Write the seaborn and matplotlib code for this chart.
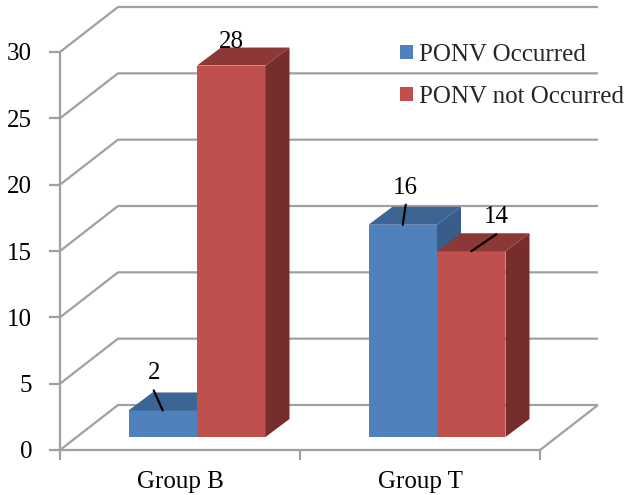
import matplotlib
matplotlib.use("Agg")
import matplotlib.pyplot as plt
from matplotlib.patches import Polygon, Patch
import pandas as pd
import seaborn as sns

# ---- data -------------------------------------------------------------
groups = ["Group B", "Group T"]
outcomes = ["PONV Occurred", "PONV not Occurred"]
occurred = [2, 16]
not_occurred = [28, 14]
y_ticks = [0, 5, 10, 15, 20, 25, 30]

df = pd.DataFrame({
    "group": groups * 2,
    "outcome": [outcomes[0]] * len(groups) + [outcomes[1]] * len(groups),
    "count": occurred + not_occurred,
})

# ---- styling ----------------------------------------------------------
front_col = {outcomes[0]: "#4F81BD", outcomes[1]: "#C0504D"}
top_col = {outcomes[0]: "#3D6594", outcomes[1]: "#8C3836"}
side_col = {outcomes[0]: "#385D8A", outcomes[1]: "#772D2C"}
grid_col = "#A0A0A0"
FS = 18

W, H, DPI = 639, 495, 100
sns.set_theme(style="white")
plt.rcParams["font.family"] = ["Liberation Serif", "DejaVu Serif"]

fig = plt.figure(figsize=(W / DPI, H / DPI), dpi=DPI)
# front plane of the 3-D box
ax = fig.add_axes([60 / W, 1 - 450 / H, 480 / W, 398 / H])

sns.barplot(data=df, x="group", y="count", hue="outcome",
            order=groups, hue_order=outcomes, palette=front_col,
            width=137 / 240, saturation=1, linewidth=0,
            legend=False, ax=ax)
ax.set_xlim(-0.5, 1.5)
ax.set_ylim(0, 30)
ax.set_xlabel("")
ax.set_ylabel("")

# pixel -> data conversion for the oblique depth offsets
p0 = ax.transData.transform((0, 0))
p1 = ax.transData.transform((1, 1))
sx, sy = p1[0] - p0[0], p1[1] - p0[1]


def depth(px, py):
    return px / sx, py / sy


wx, wy = depth(58, 45)      # full depth of the box
fx, fy = depth(17, 13)      # front of the bars
bdx, bdy = depth(24, 18)    # depth of a bar

# side wall / back wall gridlines and the floor
line_kw = dict(color=grid_col, lw=1.6, clip_on=False, zorder=1,
               solid_capstyle="butt")
for t in y_ticks[1:]:
    ax.plot([-0.5, -0.5 + wx, 1.5 + wx], [t, t + wy, t + wy], **line_kw)
ax.plot([-0.5, -0.5 + wx, 1.5 + wx], [0, wy, wy], **line_kw)
ax.plot([1.5 + wx, 1.5], [wy, 0], **line_kw)

# label offsets (pixels) relative to the top centre of each bar,
# and whether a leader line joins label and bar
label_off = {
    (groups[0], outcomes[0]): (-9, 37, True),
    (groups[0], outcomes[1]): (0, 24, False),
    (groups[1], outcomes[0]): (3, 37, True),
    (groups[1], outcomes[1]): (25, 34, True),
}
LEADER_GAP = 17

for hi, (outcome, container) in enumerate(zip(outcomes, ax.containers)):
    z = 3 + hi
    for gi, patch in enumerate(container):
        x0 = patch.get_x() + fx
        w = patch.get_width()
        h = patch.get_height()
        patch.set_x(x0)
        patch.set_y(fy)
        patch.set_zorder(z)
        y1 = fy + h
        ax.add_patch(Polygon([(x0, y1), (x0 + w, y1),
                              (x0 + w + bdx, y1 + bdy), (x0 + bdx, y1 + bdy)],
                             closed=True, facecolor=top_col[outcome],
                             edgecolor="none", zorder=z + 0.1, clip_on=False))
        ax.add_patch(Polygon([(x0 + w, fy), (x0 + w + bdx, fy + bdy),
                              (x0 + w + bdx, y1 + bdy), (x0 + w, y1)],
                             closed=True, facecolor=side_col[outcome],
                             edgecolor="none", zorder=z + 0.1, clip_on=False))
        ox, oy, lead = label_off[(groups[gi], outcome)]
        top_centre = (x0 + w / 2, y1)
        ax.annotate(f"{h:g}", xy=top_centre, xytext=(ox, oy),
                    textcoords="offset pixels", ha="center", va="center",
                    fontsize=FS, color="black", zorder=6,
                    annotation_clip=False)
        if lead:
            ax.annotate("", xy=top_centre, xytext=(ox, oy - LEADER_GAP),
                        textcoords="offset pixels",
                        arrowprops=dict(arrowstyle="-", color="black", lw=1.6,
                                        shrinkA=0, shrinkB=0),
                        zorder=6, annotation_clip=False)

# axes, ticks and labels
for s in ("top", "right"):
    ax.spines[s].set_visible(False)
for s in ("left", "bottom"):
    ax.spines[s].set_color(grid_col)
    ax.spines[s].set_linewidth(1.6)
    ax.spines[s].set_zorder(1)

ax.set_yticks(y_ticks)
ax.set_yticklabels([str(t) for t in y_ticks])
ax.tick_params(axis="y", left=True, length=8, width=1.6, color=grid_col,
               pad=12, labelsize=FS, labelcolor="black")
ax.set_xticks([0, 1])
ax.set_xticklabels(groups)
ax.set_xticks([-0.5, 0.5, 1.5], minor=True)
ax.tick_params(axis="x", which="major", bottom=False, length=0, pad=15,
               labelsize=FS, labelcolor="black")
ax.tick_params(axis="x", which="minor", bottom=True, length=7, width=1.6,
               color=grid_col)
ax.grid(False)

handles = [Patch(facecolor=front_col[o], edgecolor="none") for o in outcomes]
ax.legend(handles, outcomes, loc="upper left",
          bbox_to_anchor=(400 / W, 1 - 44 / H), bbox_transform=fig.transFigure,
          frameon=False, fontsize=FS, handlelength=0.5, handleheight=0.5,
          handletextpad=0.25, labelspacing=0.8, borderpad=0, borderaxespad=0)

fig.savefig("out.png", dpi=DPI)
